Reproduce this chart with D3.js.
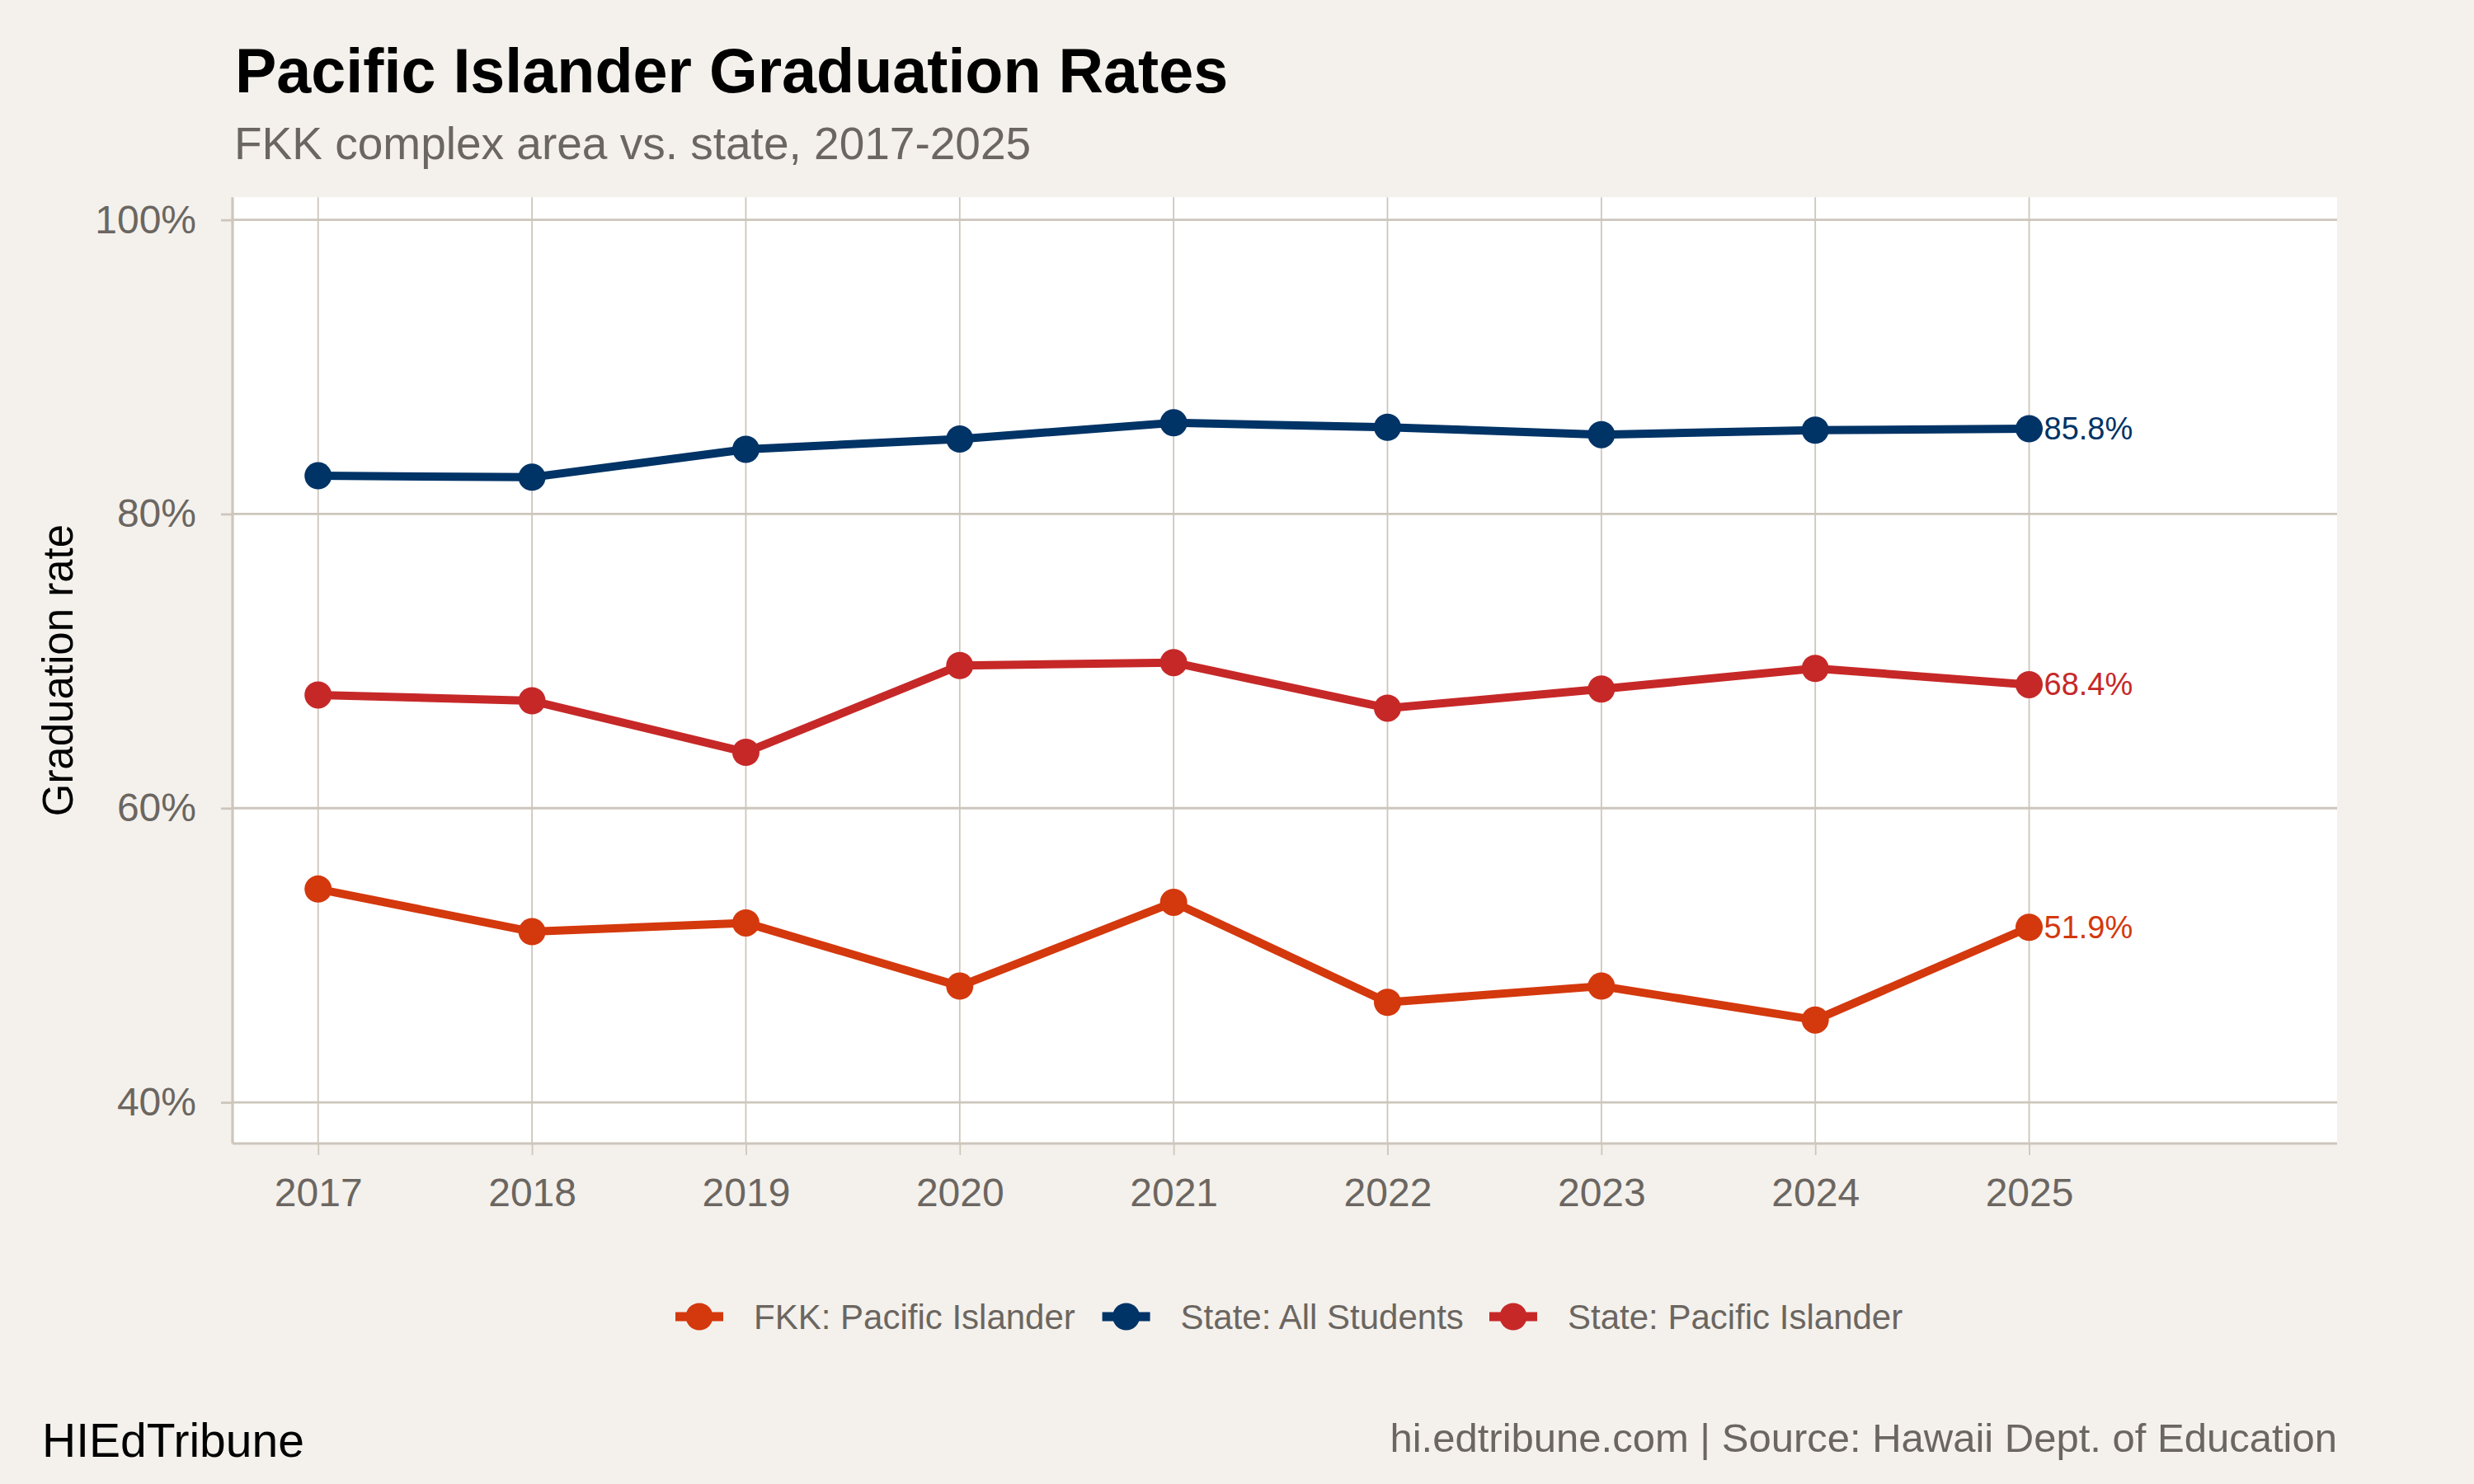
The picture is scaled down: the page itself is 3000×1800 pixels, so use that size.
<!DOCTYPE html>
<html>
<head>
<meta charset="utf-8">
<script src="https://cdn.jsdelivr.net/npm/d3@7"></script>
<style>
  html, body { margin: 0; padding: 0; background: #f4f1ec; }
  svg { display: block; }
  text { font-family: "Liberation Sans", Arial, Helvetica, sans-serif; }
</style>
</head>
<body>
<svg id="chart" width="3000" height="1800"></svg>
<script>
// ---- data ----
const years = [2017, 2018, 2019, 2020, 2021, 2022, 2023, 2024, 2025];
const fkkPacificIslander = [54.5, 51.6, 52.2, 47.9, 53.6, 46.8, 47.9, 45.6, 51.9];
const stateAllStudents = [82.6, 82.5, 84.4, 85.1, 86.2, 85.9, 85.4, 85.7, 85.8];
const statePacificIslander = [67.7, 67.3, 63.8, 69.7, 69.9, 66.8, 68.1, 69.5, 68.4];
const seriesNames = ["FKK: Pacific Islander", "State: All Students", "State: Pacific Islander"];
const seriesColors = ["#d4380d", "#003366", "#c62828"];
const yTicks = [40, 60, 80, 100];
const titleText = "Pacific Islander Graduation Rates";
const subtitleText = "FKK complex area vs. state, 2017-2025";
const yAxisTitle = "Graduation rate";
const captionLeft = "HIEdTribune";
const captionRight = "hi.edtribune.com | Source: Hawaii Dept. of Education";

const seriesValues = [fkkPacificIslander, stateAllStudents, statePacificIslander];
const series = seriesNames.map((name, i) => ({
  name, color: seriesColors[i],
  values: years.map((yr, j) => ({ year: yr, value: seriesValues[i][j] }))
}));

// ---- layout ----
const svg = d3.select("#chart");
const panel = { left: 282, right: 2834, top: 239.2, bottom: 1387 };
const gridColor = "#cdc6bc";
const textGray = "#6b6661";

svg.append("rect").attr("width", 3000).attr("height", 1800).attr("fill", "#f4f1ec");

const x = d3.scaleLinear().domain([2016.6, 2026.44]).range([panel.left, panel.right]);
const y = d3.scaleLinear().domain([37.2, 101.54]).range([panel.bottom, panel.top]);

// panel background
svg.append("rect")
  .attr("x", panel.left).attr("y", panel.top)
  .attr("width", panel.right - panel.left).attr("height", panel.bottom - panel.top)
  .attr("fill", "#ffffff");

// gridlines
const grid = svg.append("g");
grid.selectAll("line.h").data(yTicks).join("line")
  .attr("x1", panel.left).attr("x2", panel.right)
  .attr("y1", d => y(d)).attr("y2", d => y(d))
  .attr("stroke", gridColor).attr("stroke-width", 2.8);
grid.selectAll("line.v").data(years).join("line")
  .attr("y1", panel.top).attr("y2", panel.bottom)
  .attr("x1", d => x(d)).attr("x2", d => x(d))
  .attr("stroke", gridColor).attr("stroke-width", 1.8);

// axes
const xAxis = d3.axisBottom(x).tickValues(years).tickFormat(d3.format("d")).tickSize(14).tickPadding(28);
const gx = svg.append("g").attr("transform", `translate(0,${panel.bottom})`).call(xAxis);
gx.select(".domain").attr("stroke", gridColor).attr("stroke-width", 3.2);
gx.selectAll(".tick line").attr("stroke", gridColor).attr("stroke-width", 1.8);
gx.selectAll(".tick text").attr("fill", textGray).attr("font-size", 48)
  .attr("font-family", '"Liberation Sans", Arial, sans-serif');

const yAxis = d3.axisLeft(y).tickValues(yTicks).tickFormat(d => d + "%").tickSize(14).tickPadding(30);
const gy = svg.append("g").attr("transform", `translate(${panel.left},0)`).call(yAxis);
gy.select(".domain").attr("stroke", gridColor).attr("stroke-width", 3.2);
gy.selectAll(".tick line").attr("stroke", gridColor).attr("stroke-width", 2.8);
gy.selectAll(".tick text").attr("fill", textGray).attr("font-size", 48)
  .attr("font-family", '"Liberation Sans", Arial, sans-serif');
// redraw domain lines cleanly (remove outer tick caps)
gx.select(".domain").attr("d", `M${panel.left},0H${panel.right}`);
gy.select(".domain").attr("d", `M0,${panel.top}V${panel.bottom}`);

// lines and points
const line = d3.line().x(d => x(d.year)).y(d => y(d.value));
const sg = svg.append("g");
series.forEach(s => {
  sg.append("path").datum(s.values)
    .attr("d", line).attr("fill", "none")
    .attr("stroke", s.color).attr("stroke-width", 10)
    .attr("stroke-linejoin", "round");
  sg.selectAll(null).data(s.values).join("circle")
    .attr("cx", d => x(d.year)).attr("cy", d => y(d.value))
    .attr("r", 16.5).attr("fill", s.color);
  const last = s.values[s.values.length - 1];
  sg.append("text")
    .attr("x", x(last.year) + 18).attr("y", y(last.value))
    .attr("dominant-baseline", "central")
    .attr("fill", s.color).attr("font-size", 38)
    .text(last.value.toFixed(1) + "%");
});

// titles
svg.append("text").attr("x", 285).attr("y", 112)
  .attr("font-size", 75.5).attr("font-weight", "bold").attr("fill", "#000")
  .text(titleText);
svg.append("text").attr("x", 284).attr("y", 193)
  .attr("font-size", 55).attr("fill", textGray)
  .text(subtitleText);

// y-axis title
svg.append("text")
  .attr("transform", `translate(88,${(panel.top + panel.bottom) / 2}) rotate(-90)`)
  .attr("text-anchor", "middle")
  .attr("font-size", 51).attr("fill", "#000")
  .text(yAxisTitle);

// legend
const legendKeyX = [819, 1336.6, 1806];
const legendY = 1597;
const lg = svg.append("g");
series.forEach((s, i) => {
  const kx = legendKeyX[i];
  lg.append("line").attr("x1", kx).attr("x2", kx + 58)
    .attr("y1", legendY).attr("y2", legendY)
    .attr("stroke", s.color).attr("stroke-width", 11);
  lg.append("circle").attr("cx", kx + 29).attr("cy", legendY).attr("r", 16.5).attr("fill", s.color);
  lg.append("text").attr("x", kx + 95).attr("y", legendY)
    .attr("dominant-baseline", "central")
    .attr("font-size", 42).attr("fill", textGray)
    .text(s.name);
});

// captions
svg.append("text").attr("x", 51).attr("y", 1767)
  .attr("font-size", 57).attr("fill", "#000").text(captionLeft);
svg.append("text").attr("x", 2834).attr("y", 1761)
  .attr("text-anchor", "end")
  .attr("font-size", 49).attr("fill", textGray).text(captionRight);
</script>
</body>
</html>
